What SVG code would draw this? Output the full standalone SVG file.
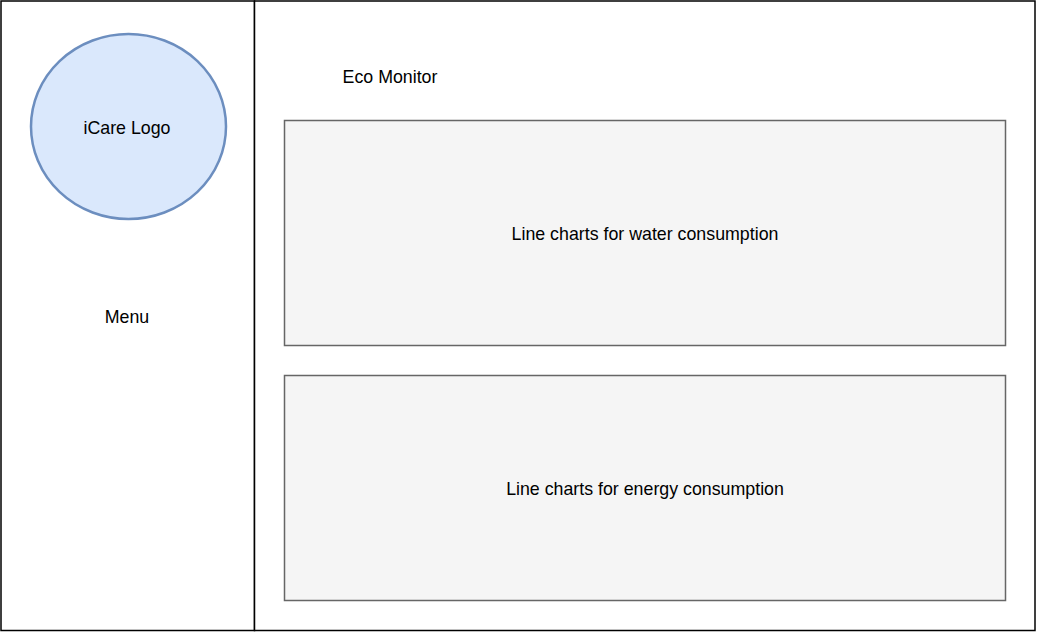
<svg xmlns="http://www.w3.org/2000/svg" width="1037" height="632" viewBox="0 0 1037 632">
<style>
text{font-family:"Liberation Sans",Arial,sans-serif;font-size:17.8px;fill:#000;text-anchor:middle}
.panel{fill:#fff;stroke:#000;stroke-width:1.5}
.chart{fill:#f5f5f5;stroke:#666;stroke-width:1.5}
</style>
<rect width="1037" height="632" fill="#fff"/>
<g id="sidebar">
<rect class="panel" x="1" y="1" width="253.5" height="629.5"/>
<text x="127" y="323">Menu</text>
</g>
<g id="main">
<rect class="panel" x="254.5" y="1" width="780.5" height="629.5"/>
<text x="390" y="83">Eco Monitor</text>
</g>
<g id="logo">
<ellipse cx="128.5" cy="126.5" rx="97.5" ry="92.5" fill="#dae8fc" stroke="#6c8ebf" stroke-width="2.5"/>
<text x="127" y="134">iCare Logo</text>
</g>
<g id="water-chart">
<rect class="chart" x="284.5" y="120.5" width="721" height="225"/>
<text x="645" y="240">Line charts for water consumption</text>
</g>
<g id="energy-chart">
<rect class="chart" x="284.5" y="375.5" width="721" height="225"/>
<text x="645" y="495">Line charts for energy consumption</text>
</g>
<g id="connectors"></g>
</svg>
